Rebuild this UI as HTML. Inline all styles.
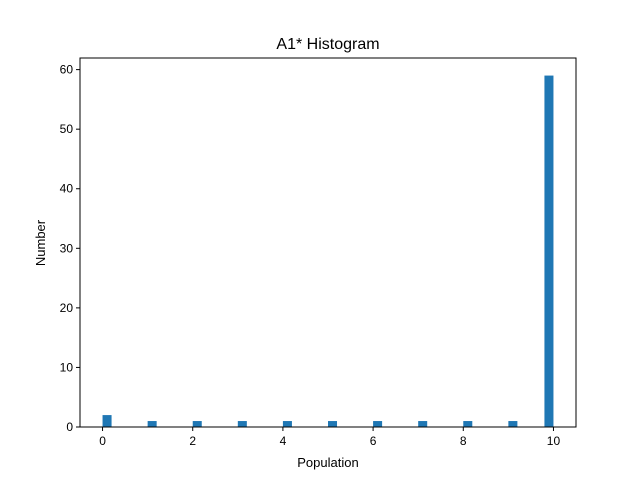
<!DOCTYPE html>
<html><head><meta charset="utf-8"><style>
body{margin:0;background:#fff;}
svg{display:block;font-family:"Liberation Sans","DejaVu Sans",sans-serif;}
</style></head><body>
<svg id="chart" width="640" height="480">
<rect width="640" height="480" fill="#fff"/>
<text x="328" y="49" text-anchor="middle" font-size="16">A1* Histogram</text>
<g id="bars"></g>
<g id="axes"></g>
<text x="328" y="467" text-anchor="middle" font-size="13">Population</text>
<text x="45" y="243" text-anchor="middle" font-size="13" transform="rotate(-90 45 243)">Number</text>
</svg>
<script>
const binStarts = [0,1,2,3,4,5,6,7,8,9,9.8];
const counts = [2,1,1,1,1,1,1,1,1,1,59];
const binWidth = 0.2;
const xTicks = [0,2,4,6,8,10];
const yTicks = [0,10,20,30,40,50,60];
const L=80,R=576,T=58,B=427;
const xMin=-0.5,xMax=10.5,yMax=61.95;
const sx=v=>L+(v-xMin)/(xMax-xMin)*(R-L);
const sy=v=>B-v/yMax*(B-T);
const NS="http://www.w3.org/2000/svg";
const bars=document.getElementById('bars');
binStarts.forEach((s,i)=>{
  const r=document.createElementNS(NS,'rect');
  r.setAttribute('x',sx(s));r.setAttribute('width',sx(s+binWidth)-sx(s));
  r.setAttribute('y',sy(counts[i]));r.setAttribute('height',B-sy(counts[i]));
  r.setAttribute('fill','#1f77b4');
  
  
  bars.appendChild(r);
});
const ax=document.getElementById('axes');
let h='<rect x="'+L+'" y="'+T+'" width="'+(R-L)+'" height="'+(B-T)+'" fill="none" stroke="#000" stroke-width="1"/>';
xTicks.forEach(t=>{const x=sx(t);h+='<line x1="'+x+'" x2="'+x+'" y1="'+B+'" y2="'+(B+4)+'" stroke="#000"/><text x="'+x+'" y="'+(B+18)+'" text-anchor="middle" font-size="12">'+t+'</text>';});
yTicks.forEach(t=>{const y=sy(t);h+='<line x1="'+(L-4)+'" x2="'+L+'" y1="'+y+'" y2="'+y+'" stroke="#000"/><text x="'+(L-7)+'" y="'+(y+4)+'" text-anchor="end" font-size="12">'+t+'</text>';});
ax.innerHTML=h;
</script>
</body></html>
